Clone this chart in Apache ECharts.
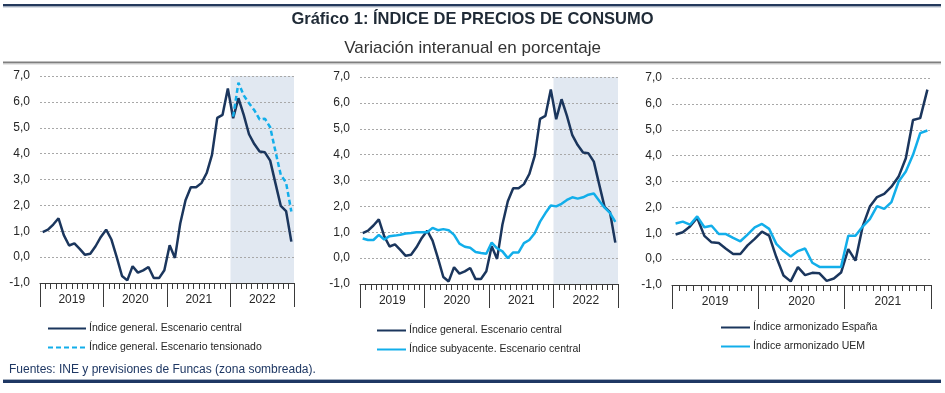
<!DOCTYPE html>
<html>
<head>
<meta charset="utf-8">
<script src="https://cdn.jsdelivr.net/npm/echarts@6/dist/echarts.min.js"></script>
<style>
html,body{margin:0;padding:0;background:#fff;}
#c{width:945px;height:393px;}
</style>
</head>
<body>
<div id="c"></div>
<script>
// ---------- DATA ----------
const years4 = ['2019', '2020', '2021', '2022'];
const years3 = ['2019', '2020', '2021'];
const monthNames = ['01','02','03','04','05','06','07','08','09','10','11','12'];

// Panel 1 & 2: Índice general, escenario central (Jan 2019 - Dec 2022)
const generalCentral = [
  0.97, 1.06, 1.26, 1.50, 0.85, 0.45, 0.53, 0.32, 0.09, 0.13, 0.42, 0.78,
  1.06, 0.68, 0.00, -0.73, -0.90, -0.35, -0.60, -0.51, -0.38, -0.81, -0.81, -0.51,
  0.46, -0.03, 1.30, 2.20, 2.70, 2.70, 2.86, 3.25, 3.95, 5.38, 5.50, 6.52,
  5.37, 6.14, 5.50, 4.75, 4.37, 4.08, 4.05, 3.73, 2.85, 1.98, 1.78, 0.60
];
// Panel 1: Índice general, escenario tensionado (2022 only)
const generalTension2022 = [5.43, 6.74, 6.25, 5.95, 5.68, 5.32, 5.35, 5.02, 4.08, 3.18, 2.88, 1.76];
// Panel 2: Índice subyacente, escenario central
const subyacente = [
  0.76, 0.70, 0.70, 0.90, 0.72, 0.85, 0.87, 0.90, 0.95, 0.97, 1.00, 1.00,
  1.00, 1.17, 1.08, 1.12, 1.08, 0.90, 0.56, 0.44, 0.40, 0.24, 0.20, 0.17,
  0.60, 0.38, 0.26, 0.00, 0.22, 0.22, 0.58, 0.70, 0.96, 1.41, 1.74, 2.03,
  2.00, 2.10, 2.25, 2.35, 2.30, 2.35, 2.45, 2.50, 2.22, 1.95, 1.75, 1.40
];
// Panel 3: IPCA España y UEM (Jan 2019 - Dec 2021)
const ipcaEspana = [
  0.95, 1.04, 1.26, 1.60, 0.90, 0.65, 0.62, 0.40, 0.20, 0.20, 0.53, 0.78,
  1.06, 0.91, 0.08, -0.63, -0.86, -0.31, -0.62, -0.53, -0.55, -0.84, -0.75, -0.52,
  0.39, -0.06, 1.26, 2.03, 2.40, 2.52, 2.80, 3.19, 3.90, 5.38, 5.45, 6.55
];
const ipcaUEM = [
  1.38, 1.45, 1.33, 1.65, 1.23, 1.29, 0.97, 0.97, 0.82, 0.69, 0.95, 1.23,
  1.36, 1.17, 0.59, 0.31, 0.10, 0.31, 0.41, -0.14, -0.30, -0.30, -0.30, -0.30,
  0.90, 0.90, 1.26, 1.55, 2.05, 1.94, 2.20, 3.00, 3.39, 4.03, 4.87, 4.97
];
const forecastYear = '2022';

const names = {
  central: 'Índice general. Escenario central',
  tension: 'Índice general. Escenario tensionado',
  suby: 'Índice subyacente. Escenario central',
  esp: 'Índice armonizado España',
  uem: 'Índice armonizado UEM'
};

// ---------- BUILD ----------
const NAVY = '#1b365d', CYAN = '#12aeea', SHADE = '#e1e8f1';
const FONT = "'Liberation Sans', Arial, sans-serif";
const TXT = '#262626';

function monthsOf(yrs){ const m=[]; yrs.forEach(y=>monthNames.forEach(mm=>m.push(y+'-'+mm))); return m; }
const months4 = monthsOf(years4);
const months3 = monthsOf(years3);

const tension = months4.map(m => m.startsWith(forecastYear) ? generalTension2022[+m.slice(5)-1] : null);
const shadeYears = years4.map(y => y === forecastYear ? 1 : null);

function monthAxis(g, data){
  return {type:'category', gridIndex:g, data:data, boundaryGap:true, position:'bottom',
    axisLine:{show:true, onZero:false, lineStyle:{color:'#3a3a3a', width:1}},
    axisTick:{show:true, interval:0, length:6, lineStyle:{color:'#3a3a3a'}},
    axisLabel:{show:false}, splitLine:{show:false}};
}
function yearAxis(g, data){
  return {type:'category', gridIndex:g, data:data, boundaryGap:true, position:'bottom',
    axisLine:{show:false, onZero:false},
    axisTick:{show:true, interval:0, length:24, lineStyle:{color:'#3a3a3a'}},
    axisLabel:{show:true, interval:0, margin:11, fontSize:12, color:TXT, fontFamily:FONT},
    splitLine:{show:false}};
}
function valAxis(g){
  return {type:'value', gridIndex:g, min:-1, max:7, interval:1,
    axisLine:{show:false}, axisTick:{show:false},
    axisLabel:{margin:10, fontSize:12, color:TXT, fontFamily:FONT,
      formatter: v => v.toFixed(1).replace('.', ',')},
    splitLine:{show:true, lineStyle:{color:'#a8a8a8', type:[2,2], width:1}}};
}
function shadeAxis(g){
  return {type:'value', gridIndex:g, min:0, max:1, show:false, splitLine:{show:false}};
}
function line(name, data, xi, yi, color, dashed){
  return {type:'line', name:name, data:data, xAxisIndex:xi, yAxisIndex:yi,
    symbol:'none', showSymbol:false, connectNulls:false, z:3,
    lineStyle:{color:color, width:2.5, type: dashed ? [5,3] : 'solid'},
    itemStyle:{color:color}};
}
function shadeBar(xi, yi){
  return {type:'bar', data:shadeYears, xAxisIndex:xi, yAxisIndex:yi, barCategoryGap:'0%', barGap:'0%',
    itemStyle:{color:SHADE}, silent:true, z:-1};
}
function legend(items, left, top, w){
  return {data:items, left:left, top:top, orient:'vertical', itemWidth:w, itemHeight:10, itemGap:8,
    padding:0, selectedMode:false, itemStyle:{opacity:0, borderWidth:0},
    textStyle:{fontSize:10.5, color:TXT, fontFamily:FONT, padding:[0,0,0,-2]}};
}

const option = {
  animation:false,
  textStyle:{fontFamily:FONT},
  title:[
    {text:'Gráfico 1: ÍNDICE DE PRECIOS DE CONSUMO', left:'center', top:11, padding:0,
      textStyle:{fontSize:16.5, fontWeight:'bold', color:'#1f2a36', fontFamily:FONT}},
    {text:'Variación interanual en porcentaje', left:'center', top:40, padding:0,
      textStyle:{fontSize:17, fontWeight:'normal', color:'#333', fontFamily:FONT}},
    {text:'Fuentes: INE y previsiones de Funcas (zona sombreada).', left:9, top:364, padding:0,
      textStyle:{fontSize:12, fontWeight:'normal', color:'#1f3864', fontFamily:FONT}}
  ],
  grid:[
    {left:40, top:76, width:254, height:207},
    {left:360, top:77, width:258, height:207},
    {left:672, top:78, width:259, height:207}
  ],
  xAxis:[
    monthAxis(0, months4), yearAxis(0, years4),
    monthAxis(1, months4), yearAxis(1, years4),
    monthAxis(2, months3), yearAxis(2, years3)
  ],
  yAxis:[
    valAxis(0), shadeAxis(0),
    valAxis(1), shadeAxis(1),
    valAxis(2)
  ],
  legend:[
    legend([names.central, names.tension], 47, 323, 38),
    legend([names.central, names.suby], 376, 325, 29),
    legend([names.esp, names.uem], 720, 322, 29)
  ],
  series:[
    shadeBar(1, 1),
    line(names.central, generalCentral, 0, 0, NAVY, false),
    line(names.tension, tension, 0, 0, CYAN, true),
    shadeBar(3, 3),
    line(names.central, generalCentral, 2, 2, NAVY, false),
    line(names.suby, subyacente, 2, 2, CYAN, false),
    line(names.esp, ipcaEspana, 4, 4, NAVY, false),
    line(names.uem, ipcaUEM, 4, 4, CYAN, false)
  ],
  graphic:[
    {type:'rect', shape:{x:3, y:4, width:938, height:2.5}, style:{fill:'#24395c'}, silent:true},
    {type:'rect', shape:{x:3, y:6.5, width:938, height:1}, style:{fill:'#b3bdcb'}, silent:true},
    {type:'rect', shape:{x:3, y:61.5, width:938, height:2}, style:{fill:'#7f7f7f'}, silent:true},
    {type:'rect', shape:{x:3, y:63.5, width:938, height:1}, style:{fill:'#cfcfcf'}, silent:true},
    {type:'rect', shape:{x:3, y:379, width:938, height:1}, style:{fill:'#a5b0c0'}, silent:true},
    {type:'rect', shape:{x:3, y:380, width:938, height:3}, style:{fill:'#1f3864'}, silent:true}
  ]
};

const chart = echarts.init(document.getElementById('c'), null, {renderer:'canvas'});
chart.setOption(option);
</script>
</body>
</html>
